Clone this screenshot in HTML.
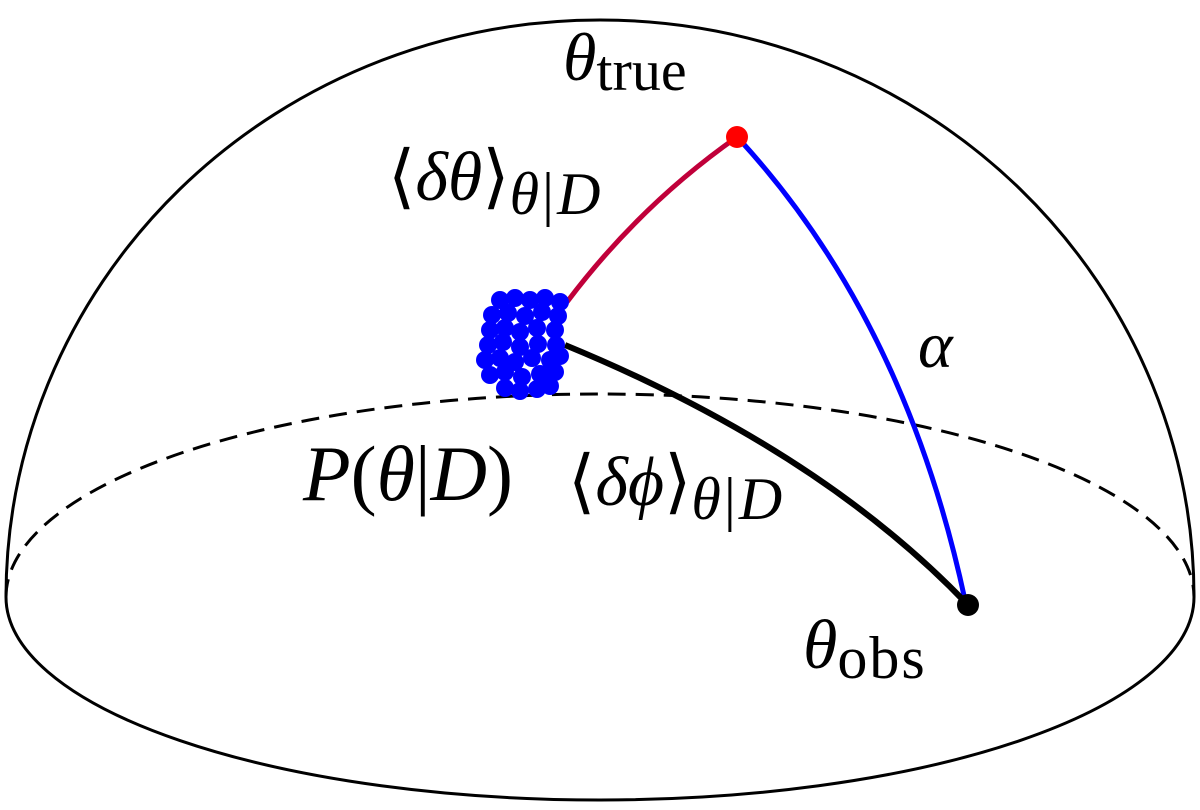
<!DOCTYPE html>
<html><head><style>
html,body{margin:0;padding:0;background:#fff;}
svg{display:block;}
text{font-family:"Liberation Serif",serif;fill:#000;}
</style></head><body>
<svg width="1200" height="810" viewBox="0 0 1200 810">
<path d="M6,597 A594,577 0 0 1 1194,597" fill="none" stroke="#000" stroke-width="3"/>
<path d="M6,597 A594,203 0 0 0 1194,597" fill="none" stroke="#000" stroke-width="3"/>
<path d="M6,597 A594,203 0 0 1 1194,597" fill="none" stroke="#000" stroke-width="3" stroke-dasharray="18,10"/>
<path d="M567,302 Q640,205 737,137" fill="none" stroke="#c0003a" stroke-width="5"/>
<path d="M740,140 Q905,320 965,600" fill="none" stroke="#0000ff" stroke-width="5"/>
<path d="M565,345 Q820,450 968,605" fill="none" stroke="#000" stroke-width="6"/>
<circle cx="737" cy="137" r="11" fill="#ff0000"/>
<circle cx="968" cy="605" r="11" fill="#000"/>
<g fill="#0000ff">
<circle cx="500" cy="300" r="9"/><circle cx="515" cy="298" r="9"/><circle cx="530" cy="300" r="9"/><circle cx="545" cy="298" r="9"/><circle cx="560" cy="302" r="9"/>
<circle cx="492" cy="315" r="9"/><circle cx="508" cy="313" r="9"/><circle cx="525" cy="316" r="9"/><circle cx="542" cy="312" r="9"/><circle cx="558" cy="316" r="9"/>
<circle cx="490" cy="330" r="9"/><circle cx="505" cy="328" r="9"/><circle cx="520" cy="332" r="9"/><circle cx="537" cy="328" r="9"/><circle cx="555" cy="330" r="9"/>
<circle cx="488" cy="345" r="9"/><circle cx="503" cy="342" r="9"/><circle cx="520" cy="347" r="9"/><circle cx="538" cy="344" r="9"/><circle cx="556" cy="345" r="9"/>
<circle cx="485" cy="360" r="9"/><circle cx="500" cy="358" r="9"/><circle cx="515" cy="362" r="9"/><circle cx="532" cy="358" r="9"/><circle cx="550" cy="360" r="9"/><circle cx="560" cy="356" r="9"/>
<circle cx="490" cy="375" r="9"/><circle cx="505" cy="372" r="9"/><circle cx="522" cy="377" r="9"/><circle cx="540" cy="374" r="9"/><circle cx="555" cy="372" r="9"/>
<circle cx="505" cy="388" r="9"/><circle cx="520" cy="391" r="9"/><circle cx="537" cy="389" r="9"/><circle cx="550" cy="386" r="9"/>
</g>
<text x="563" y="80" font-size="68" font-style="italic">θ<tspan font-style="normal" font-size="58" dy="10">true</tspan></text>
<text x="388" y="200" font-size="70">⟨<tspan font-style="italic">δθ</tspan>⟩<tspan font-style="italic" font-size="60" dy="14" letter-spacing="3">θ</tspan><tspan font-size="60" letter-spacing="3">|</tspan><tspan font-style="italic" font-size="60">D</tspan></text>
<text x="918" y="367" font-size="66" font-style="italic">α</text>
<text x="303" y="500" font-size="78"><tspan font-style="italic">P</tspan>(<tspan font-style="italic">θ</tspan>|<tspan font-style="italic">D</tspan>)</text>
<text x="568" y="505" font-size="70">⟨<tspan font-style="italic">δϕ</tspan>⟩<tspan font-style="italic" font-size="60" dy="14" letter-spacing="3">θ</tspan><tspan font-size="60" letter-spacing="3">|</tspan><tspan font-style="italic" font-size="60">D</tspan></text>
<text x="803" y="668" font-size="70" font-style="italic">θ<tspan font-style="normal" font-size="60" dy="10" letter-spacing="2">obs</tspan></text>
</svg>
</body></html>
